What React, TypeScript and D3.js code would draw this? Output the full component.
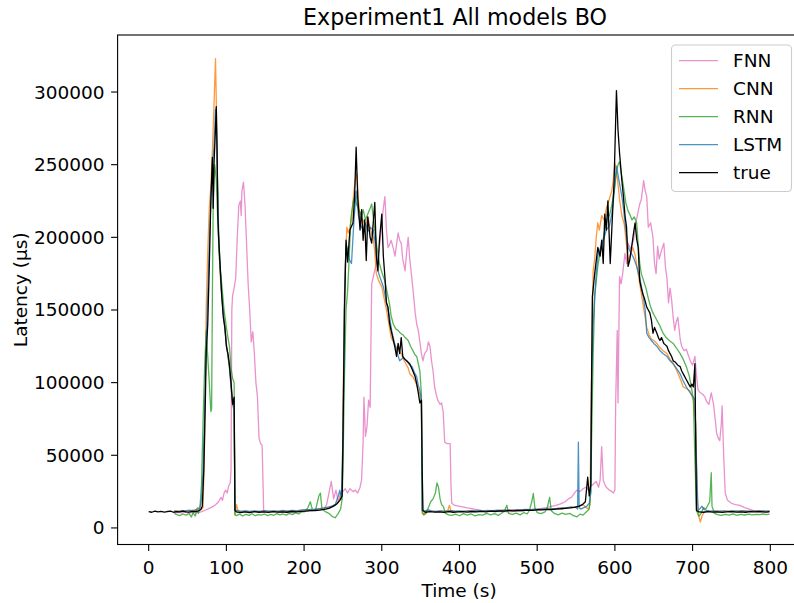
import React from 'react';
import * as d3 from 'd3';

// [time (s), latency (thousand µs)]
const trueData: [number, number][] = [
  [0, 11.2], [4, 10.8], [8, 11.5], [12, 11.0], [16, 11.4], [20, 10.9], [24, 11.3], [28, 11.6], [32, 10.8], [36, 11.2],
  [40, 11.0], [44, 11.5], [48, 11.1], [52, 10.9], [56, 11.4], [60, 11.2], [64, 11.8], [67, 12.5], [69, 15], [71, 40],
  [73, 90], [74, 120], [76, 140], [78, 180], [80, 225], [82, 255], [83, 220], [84, 250], [86, 275], [87, 290],
  [88, 262], [89, 215], [90, 200], [92, 180], [94, 160], [96, 145], [98, 138], [100, 125], [102, 120], [104, 112],
  [106, 100], [108, 85], [110, 90], [111, 12], [113, 11], [118, 10.5], [124, 11.0], [130, 10.6], [136, 11.2], [142, 10.8],
  [148, 11.0], [154, 10.7], [160, 11.2], [166, 10.9], [172, 11.1], [178, 10.8], [184, 11.3], [190, 11.0], [196, 11.4], [202, 11.6],
  [208, 11.9], [214, 12.0], [220, 12.3], [226, 12.8], [232, 13.5], [238, 15], [242, 16.5], [246, 19], [249, 22], [250, 60],
  [252, 150], [254, 198], [256, 183], [259, 205], [263, 210], [265, 228], [267, 262], [269, 228], [272, 205], [274, 219],
  [276, 198], [278, 212], [280, 184], [282, 214], [285, 200], [287, 196], [289, 210], [291, 224], [293, 187], [295, 177],
  [297, 198], [300, 216], [302, 187], [304, 173], [306, 155], [308, 152], [310, 141], [312, 136], [315, 129], [317, 124],
  [319, 118], [321, 127], [323, 120], [325, 131], [327, 118], [330, 116], [332, 115], [336, 113], [340, 108], [343, 104],
  [345, 99], [347, 93], [349, 86], [351, 88], [352, 40], [353, 12], [356, 10.8], [362, 11.2], [368, 10.9], [374, 11.1],
  [380, 10.7], [386, 11.3], [392, 10.8], [398, 11.0], [404, 11.2], [410, 10.9], [416, 11.3], [422, 11.0], [428, 11.4], [434, 11.1],
  [440, 11.5], [446, 11.3], [452, 11.8], [458, 11.6], [464, 12.0], [470, 11.8], [476, 12.1], [482, 12.0], [488, 12.3], [494, 12.1],
  [500, 12.5], [506, 12.4], [512, 12.8], [518, 12.6], [524, 13.0], [530, 13.2], [536, 13.5], [542, 13.8], [548, 14.2], [554, 15],
  [558, 16], [562, 18], [565, 35], [567, 22], [569, 30], [570, 100], [571, 159], [574, 175], [576, 184], [578, 193],
  [581, 187], [583, 198], [585, 182], [587, 216], [589, 205], [591, 225], [594, 182], [596, 205], [599, 239], [602, 301],
  [604, 274], [606, 258], [609, 239], [611, 228], [613, 215], [615, 207], [617, 180], [619, 184], [622, 195], [624, 203],
  [626, 210], [628, 199], [630, 193], [632, 170], [634, 165], [636, 161], [638, 158], [641, 152], [643, 150], [645, 148],
  [647, 143], [649, 134], [651, 138], [654, 134], [656, 131], [658, 129], [660, 131], [663, 127], [665, 126], [667, 125],
  [669, 122], [671, 120], [673, 118], [675, 115], [678, 114], [681, 112], [684, 111], [686, 108], [688, 106], [690, 104],
  [692, 102], [694, 100], [697, 97], [699, 99], [701, 97], [703, 113], [704, 60], [705, 12], [708, 11], [714, 10.8],
  [720, 11.2], [726, 10.9], [732, 11.1], [738, 10.7], [744, 11.0], [750, 11.3], [756, 10.9], [762, 11.1], [768, 10.8], [774, 11.2],
  [780, 11.0], [786, 11.3], [790, 11.1], [795, 10.9], [799, 11.2],
];

const cnnData: [number, number][] = [
  [33, 11.5], [38, 11.8], [43, 11.2], [48, 12.0], [52, 11.5], [56, 12.2], [60, 11.8], [63, 14], [65, 12], [68, 13],
  [70, 14], [72, 60], [74, 150], [76, 190], [78, 220], [80, 235], [82, 260], [84, 290], [86, 323], [87, 295],
  [88, 250], [90, 200], [92, 175], [94, 160], [96, 150], [98, 140], [100, 127], [102, 118], [104, 110], [106, 98],
  [108, 85], [110, 80], [111, 9], [113, 16], [115, 12], [120, 11.2], [126, 11.6], [132, 11.0], [138, 11.4], [144, 11.2],
  [150, 11.5], [156, 11.1], [162, 11.6], [168, 11.3], [174, 11.8], [180, 11.4], [186, 12.0], [192, 11.7], [198, 12.2], [204, 12.6],
  [210, 12.4], [216, 13.0], [222, 13.3], [228, 13.8], [234, 14.5], [240, 16], [244, 18], [247, 21], [249, 26], [251, 120],
  [253, 180], [255, 207], [257, 203], [259, 207], [261, 212], [264, 231], [266, 240], [268, 244], [270, 225], [272, 214],
  [276, 212], [279, 208], [282, 214], [285, 206], [289, 200], [291, 190], [293, 175], [296, 170], [298, 168], [300, 166],
  [303, 158], [306, 150], [309, 141], [312, 131], [315, 128], [319, 124], [322, 122], [325, 120], [328, 116], [331, 113],
  [334, 110], [336, 106], [340, 104], [343, 101], [346, 97], [349, 92], [351, 86], [352, 10], [354, 9], [357, 12],
  [362, 11.5], [368, 11.2], [374, 11.6], [380, 11.3], [385, 12], [387, 15.6], [389, 12], [394, 11.4], [400, 11.2], [406, 11.6],
  [412, 11.3], [418, 11.7], [424, 11.4], [430, 11.8], [436, 11.5], [442, 12.0], [448, 11.7], [454, 12.1], [460, 11.9], [466, 12.3],
  [472, 12.0], [478, 12.4], [484, 12.2], [490, 12.6], [496, 12.3], [502, 12.8], [508, 12.6], [514, 13.1], [520, 12.9], [526, 13.4],
  [532, 13.2], [538, 13.8], [544, 14.0], [550, 14.6], [555, 15], [559, 16], [563, 14], [566, 13], [568, 16], [570, 110],
  [572, 177], [574, 185], [576, 200], [578, 210], [580, 205], [583, 215], [586, 212], [589, 220], [592, 225], [596, 232],
  [598, 240], [600, 251], [602, 245], [604, 237], [606, 226], [609, 215], [612, 209], [615, 195], [617, 182], [620, 188],
  [623, 193], [626, 188], [629, 178], [632, 168], [635, 158], [638, 148], [641, 138], [644, 133], [647, 130], [650, 129],
  [654, 127], [658, 124], [662, 122], [667, 120], [671, 116], [675, 113], [679, 109], [683, 104], [688, 97], [692, 96],
  [697, 94], [701, 88], [704, 72], [706, 20], [708, 8], [710, 4], [712, 8], [715, 11], [720, 11.5], [726, 11.2],
  [732, 11.8], [738, 11.4], [744, 11.6], [750, 11.2], [756, 11.5], [762, 11.3], [768, 11.7], [774, 11.4], [780, 11.6], [786, 11.3],
  [790, 11.5], [795, 11.4], [799, 11.6],
];

const rnnData: [number, number][] = [
  [33, 10], [36, 9.2], [40, 8.5], [44, 9.6], [48, 8.8], [52, 9.8], [55, 7.5], [57, 10.5], [60, 8.2], [62, 12],
  [64, 10], [66, 14], [68, 30], [70, 74], [72, 110], [74, 136], [76, 118], [78, 100], [80, 80], [81, 82],
  [82, 160], [83, 221], [85, 250], [87, 240], [89, 210], [91, 185], [94, 168], [97, 150], [100, 138], [102, 131],
  [104, 125], [106, 110], [108, 103], [110, 100], [111, 9], [113, 8.5], [117, 9.5], [121, 8.2], [125, 9.4], [129, 8.6],
  [133, 9.8], [137, 8.4], [141, 9.2], [145, 8.8], [149, 9.6], [153, 8.5], [157, 9.3], [161, 8.7], [165, 9.8], [169, 9.0],
  [173, 9.6], [177, 8.8], [181, 10.0], [185, 9.2], [189, 10.4], [193, 9.6], [197, 11.2], [200, 11], [205, 14], [208, 18],
  [211, 12], [215, 13], [219, 22], [221, 24], [223, 13], [228, 11], [232, 10], [236, 8], [240, 7], [244, 10],
  [247, 13], [249, 20], [250, 40], [252, 106], [254, 150], [256, 163], [258, 185], [260, 212], [263, 224], [265, 228],
  [268, 222], [271, 218], [274, 215], [276, 219], [279, 212], [282, 216], [285, 220], [287, 223], [289, 214], [291, 205],
  [294, 192], [297, 182], [300, 176], [304, 170], [307, 162], [310, 154], [312, 146], [315, 140], [318, 137], [321, 136],
  [324, 134], [327, 133], [330, 131], [334, 129], [337, 125], [340, 122], [343, 119], [345, 118], [347, 113], [349, 108],
  [351, 92], [352, 12], [354, 9], [357, 10], [360, 14], [363, 18], [366, 20], [369, 24], [371, 31], [373, 28],
  [375, 20], [377, 16], [379, 15], [382, 10], [386, 9], [390, 8.6], [395, 9.5], [400, 8.4], [405, 9.8], [410, 8.8],
  [415, 9.6], [420, 8.3], [425, 9.2], [430, 8.8], [435, 10.0], [440, 9.0], [445, 9.8], [450, 8.6], [455, 10.4], [458, 12],
  [461, 15.6], [463, 10], [468, 9.4], [473, 10.2], [478, 9.0], [483, 10.6], [487, 9.6], [490, 12], [493, 18], [495, 23.7],
  [497, 14], [500, 10.5], [505, 9.8], [510, 11], [513, 14], [516, 21], [518, 12], [522, 10], [527, 9.0], [532, 10.2],
  [537, 9.4], [542, 10], [546, 8.6], [551, 7.6], [555, 9.5], [559, 8.8], [563, 11], [567, 13], [569, 25], [570, 60],
  [572, 118], [574, 159], [576, 170], [578, 180], [581, 190], [584, 196], [587, 205], [590, 212], [593, 215], [596, 222],
  [599, 232], [602, 245], [604, 250], [606, 252], [608, 245], [611, 235], [614, 224], [617, 218], [619, 216], [622, 212],
  [625, 214], [628, 210], [630, 195], [632, 182], [634, 175], [637, 170], [640, 165], [643, 158], [646, 152], [649, 148],
  [652, 145], [655, 142], [658, 139], [662, 134], [666, 131], [670, 129], [675, 127], [679, 124], [684, 120], [688, 116],
  [692, 111], [696, 104], [699, 95], [701, 88], [703, 47], [705, 12], [708, 8], [711, 10], [714, 14], [717, 13],
  [720, 16], [722, 18], [724, 38], [725, 15], [728, 10], [732, 9.2], [737, 8.6], [742, 9.4], [747, 8.8], [752, 9.6],
  [757, 8.7], [762, 9.3], [767, 8.9], [772, 9.5], [777, 9.0], [782, 9.4], [787, 9.1], [790, 9.6], [795, 9.2], [799, 9.5],
];

const lstmData: [number, number][] = [
  [33, 11.8], [38, 11.2], [43, 12.0], [48, 11.6], [52, 12.2], [56, 11.8], [60, 12.5], [63, 13], [66, 14], [68, 20],
  [70, 40], [72, 80], [74, 125], [76, 160], [78, 195], [80, 225], [82, 250], [84, 262], [86, 288], [87, 280],
  [88, 255], [90, 205], [92, 178], [94, 160], [96, 148], [98, 138], [100, 126], [102, 119], [104, 110], [106, 97],
  [108, 86], [110, 82], [111, 13], [113, 12], [118, 11.4], [124, 11.8], [130, 11.3], [136, 11.7], [142, 11.4], [148, 11.9],
  [154, 11.5], [160, 11.8], [166, 11.4], [172, 12.0], [178, 11.6], [184, 12.1], [190, 11.8], [196, 12.3], [202, 12.5], [208, 12.8],
  [214, 12.7], [220, 13.2], [226, 13.8], [232, 14.5], [236, 15], [240, 16], [244, 22], [246, 26], [248, 20], [250, 60],
  [252, 160], [254, 195], [256, 192], [258, 185], [261, 182], [264, 210], [267, 232], [270, 215], [273, 208], [276, 205],
  [279, 210], [282, 204], [285, 207], [289, 205], [292, 195], [295, 177], [298, 172], [302, 166], [306, 155], [310, 145],
  [313, 135], [316, 128], [319, 122], [323, 115], [327, 117], [332, 115], [336, 112], [339, 111], [342, 107], [345, 104],
  [347, 98], [349, 95], [351, 88], [352, 12], [355, 11.5], [360, 12.5], [364, 11.8], [370, 11.3], [376, 11.7], [382, 11.4],
  [388, 11.9], [394, 11.5], [400, 11.8], [406, 11.4], [412, 11.9], [418, 11.6], [424, 12.0], [430, 11.7], [436, 12.1], [442, 11.8],
  [448, 12.3], [454, 12.0], [460, 12.4], [466, 12.1], [472, 12.5], [478, 12.3], [484, 12.7], [490, 12.5], [496, 12.9], [502, 12.7],
  [508, 13.1], [514, 12.9], [520, 13.3], [526, 13.5], [532, 13.8], [538, 14.0], [544, 14.5], [550, 14], [552, 13], [553, 59],
  [554, 14], [556, 13], [560, 14], [564, 15], [567, 17], [569, 25], [570, 100], [572, 140], [574, 159], [576, 175],
  [578, 187], [581, 192], [585, 198], [589, 205], [593, 208], [596, 216], [599, 230], [602, 249], [604, 243], [606, 237],
  [609, 228], [611, 220], [614, 205], [617, 193], [620, 190], [624, 186], [628, 180], [632, 172], [636, 161], [639, 150],
  [641, 134], [644, 131], [647, 129], [650, 127], [654, 125], [658, 122], [662, 120], [667, 118], [671, 115], [675, 113],
  [679, 110], [684, 106], [688, 101], [692, 97], [697, 93], [701, 90], [703, 88], [705, 44], [707, 12], [709, 13],
  [712, 15], [714, 13], [718, 12], [722, 11.5], [728, 11.8], [734, 11.3], [740, 11.7], [746, 11.4], [752, 11.8], [758, 11.5],
  [764, 11.9], [770, 11.4], [776, 11.7], [782, 11.5], [790, 11.8], [795, 11.5], [799, 11.7],
];

const fnnData: [number, number][] = [
  [33, 10.5], [38, 10.8], [43, 10.3], [48, 10.9], [53, 10.4], [58, 10.8], [63, 10.5], [66, 10.8], [70, 11.5], [74, 12.5],
  [78, 13.5], [82, 14.5], [86, 16], [90, 18], [93, 21], [95, 19], [97, 24], [99, 26], [101, 24], [103, 29],
  [105, 31], [106, 40], [107, 150], [108, 160], [110, 165], [112, 172], [114, 200], [116, 222], [118, 225], [119, 215],
  [120, 232], [122, 238], [124, 222], [126, 195], [128, 168], [130, 150], [132, 128], [134, 135], [136, 120], [138, 100],
  [140, 90], [142, 62], [144, 58], [146, 57], [148, 12], [152, 11.5], [158, 11.0], [164, 11.3], [170, 10.8], [176, 11.2],
  [182, 10.9], [188, 11.3], [194, 11.0], [200, 11.6], [205, 11.8], [210, 12.0], [215, 12.4], [220, 12.8], [225, 13], [229, 16],
  [232, 24], [235, 32], [238, 20], [241, 26], [244, 18], [247, 24], [250, 25], [253, 27], [256, 24], [259, 27],
  [263, 25], [266, 26], [269, 24], [272, 28], [274, 33], [276, 60], [277, 90], [279, 63], [281, 70], [283, 88],
  [285, 83], [287, 168], [290, 175], [293, 182], [296, 190], [298, 198], [300, 210], [302, 220], [304, 228], [306, 205],
  [308, 193], [310, 195], [312, 198], [315, 192], [317, 187], [319, 195], [321, 203], [323, 198], [325, 196], [327, 185],
  [330, 177], [332, 190], [334, 200], [336, 185], [338, 175], [340, 165], [343, 148], [345, 140], [347, 136], [349, 128],
  [351, 120], [353, 115], [355, 120], [358, 122], [360, 128], [362, 125], [364, 115], [366, 108], [368, 97], [370, 92],
  [372, 88], [375, 85], [377, 86], [379, 80], [381, 59], [384, 58], [388, 58], [389, 30], [390, 17], [394, 15.5],
  [399, 15], [404, 14.5], [410, 13.8], [416, 13.2], [422, 12.6], [428, 12.0], [434, 11.8], [440, 11.5], [446, 11.4], [452, 11.2],
  [458, 11.3], [464, 11.0], [470, 11.4], [476, 11.6], [482, 11.9], [488, 12.2], [494, 12.6], [500, 13.0], [506, 13.5], [512, 14.0],
  [518, 14.8], [524, 15.5], [530, 16.5], [536, 18], [540, 20], [544, 21], [548, 24], [551, 26], [555, 25], [559, 27],
  [563, 28], [566, 26], [568, 28], [572, 30], [576, 32], [579, 28], [581, 33], [583, 56], [585, 33], [587, 30],
  [589, 28], [593, 26], [596, 25], [598, 24], [600, 26], [601, 86], [603, 136], [604, 86], [606, 173], [608, 168],
  [610, 175], [613, 189], [615, 182], [617, 196], [620, 192], [624, 198], [627, 210], [630, 218], [632, 223], [634, 226],
  [637, 239], [639, 232], [641, 228], [643, 207], [646, 210], [649, 200], [651, 182], [653, 175], [655, 194], [657, 185],
  [660, 191], [663, 196], [665, 180], [667, 172], [669, 155], [671, 165], [673, 157], [675, 145], [677, 136], [679, 142],
  [681, 145], [684, 130], [686, 125], [689, 122], [692, 123], [695, 118], [697, 115], [700, 112], [703, 118], [705, 105],
  [707, 95], [710, 93], [713, 92], [716, 90], [718, 87], [721, 85], [724, 93], [727, 85], [729, 75], [731, 65],
  [733, 62], [735, 60], [737, 72], [738, 84], [740, 50], [742, 24], [745, 19], [750, 17], [755, 16], [761, 15.5],
  [767, 14], [773, 13], [778, 12], [784, 11.5], [790, 11.2], [795, 11.0], [799, 11.1],
];

const series = [
  { name: 'FNN', color: '#e377c2', opacity: 0.8, data: fnnData },
  { name: 'CNN', color: '#ff7f0e', opacity: 0.8, data: cnnData },
  { name: 'RNN', color: '#2ca02c', opacity: 0.8, data: rnnData },
  { name: 'LSTM', color: '#1f77b4', opacity: 0.8, data: lstmData },
  { name: 'true', color: '#000000', opacity: 1, data: trueData },
];

const xTicks = [0, 100, 200, 300, 400, 500, 600, 700, 800];
const yTicks = [0, 50000, 100000, 150000, 200000, 250000, 300000];

const W = 794;
const H = 603;
const left = 117.6;
// the right spine sits just past the picture's edge
const right = 800.6;
const top = 35;
const bottom = 544.5;
const font = 'DejaVu Sans, sans-serif';

export default function App() {
  const x = d3.scaleLinear().domain([-40, 839]).range([left, right]);
  const y = d3.scaleLinear().domain([-11400, 339250]).range([bottom, top]);

  const line = d3
    .line<[number, number]>()
    .x((d) => x(d[0]))
    .y((d) => y(d[1] * 1000));

  return (
    <svg width={W} height={H} style={{ position: 'absolute', left: 0, top: 0, background: '#fff' }}>
      <defs>
        <clipPath id="plotclip">
          <rect x={left} y={top} width={right - left} height={bottom - top} />
        </clipPath>
      </defs>

      <g clipPath="url(#plotclip)">
        {series.map((s) => (
          <path
            key={s.name}
            d={line(s.data) || ''}
            fill="none"
            stroke={s.color}
            strokeOpacity={s.opacity}
            strokeWidth={1.3}
            strokeLinejoin="round"
          />
        ))}
      </g>

      {/* frame */}
      <rect x={left} y={top} width={right - left} height={bottom - top} fill="none" stroke="#000" strokeWidth={1.1} />

      {/* x axis */}
      {xTicks.map((t) => (
        <g key={t} transform={`translate(${x(t)},${bottom})`}>
          <line y2={6.5} stroke="#000" strokeWidth={1.1} />
          <text y={29.5} textAnchor="middle" fontFamily={font} fontSize={18.5} fill="#000">
            {t}
          </text>
        </g>
      ))}
      <text x={(left + right) / 2} y={597} textAnchor="middle" fontFamily={font} fontSize={18.5} fill="#000">
        Time (s)
      </text>

      {/* y axis */}
      {yTicks.map((t) => (
        <g key={t} transform={`translate(${left},${y(t)})`}>
          <line x2={-6.5} stroke="#000" strokeWidth={1.1} />
          <text x={-13} dy="0.35em" textAnchor="end" fontFamily={font} fontSize={18.5} fill="#000">
            {t}
          </text>
        </g>
      ))}
      <text
        transform={`translate(27,${(top + bottom) / 2}) rotate(-90)`}
        textAnchor="middle"
        fontFamily={font}
        fontSize={18.5}
        fill="#000"
      >
        Latency (µs)
      </text>

      {/* title */}
      <text x={455} y={25} textAnchor="middle" fontFamily={font} fontSize={22.2} fill="#000">
        Experiment1 All models BO
      </text>

      {/* legend */}
      <g>
        <rect x={671.5} y={45} width={120} height={146.5} rx={4} fill="#fff" fillOpacity={0.8} stroke="#cccccc" strokeWidth={1.1} />
        {series.map((s, i) => {
          const ly = 60.7 + i * 28;
          return (
            <g key={s.name}>
              <line x1={679} x2={718} y1={ly} y2={ly} stroke={s.color} strokeOpacity={s.opacity} strokeWidth={1.3} />
              <text x={733} y={ly} dy="0.35em" fontFamily={font} fontSize={18.5} fill="#000">
                {s.name}
              </text>
            </g>
          );
        })}
      </g>
    </svg>
  );
}
